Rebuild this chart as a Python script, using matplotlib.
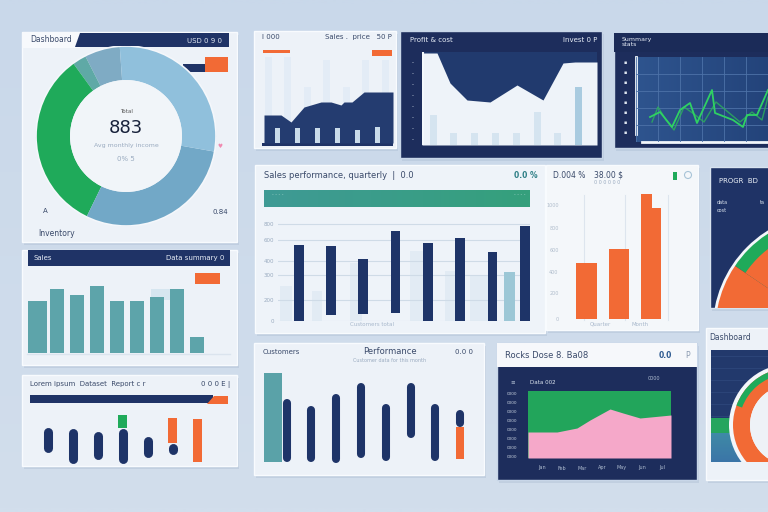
import numpy as np
import matplotlib
matplotlib.use("Agg")
import matplotlib.pyplot as plt
from matplotlib.patches import Rectangle, Circle, Polygon
from matplotlib.colors import to_rgb

W, H = 768, 512

NAVY = "#1f3366"
DARK = "#1d2d5c"
TEAL = "#5ba3a8"
ORANGE = "#f26a35"
GREEN = "#1faa5a"
PINK = "#f5a8c9"
PANEL = "#edf2f8"
FAINT = "#9aabc0"

# ---------------- data ----------------
# donut, degrees per segment counter-clockwise from 94 deg
donut_vals = [23, 9, 118, 106, 104]
donut_cols = ["#7fabc4", "#5fa9a6", GREEN, "#72a8c7", "#90c0dc"]

# small top panel: navy area + light bars
area_x = [0, 17, 27, 40, 57, 67, 77, 80, 88, 100, 129]
area_h = [28, 28, 21, 36, 41, 41, 38, 41, 41, 51, 51]
ghost_h = [86, 86, 56, 83, 56, 83, 83]
front_h = [15, 15, 15, 15, 13, 16]

# dark panel: white area + pale bars
white_x = [0, 8, 15, 28, 45, 68, 95, 121, 141, 153, 175]
white_h = [92, 92, 92, 62, 45, 43, 60, 45, 82, 83, 83]
pale_h = [30, 12, 12, 12, 12, 33, 12, 58]

# top right green lines
green_x = [14, 24, 36, 44, 54, 61, 76, 79, 97, 107, 111, 121, 132]
green_a = [25, 30, 15, 32, 39, 19, 52, 29, 22, 15, 27, 27, 52]
green_bx = [16, 22, 30, 38, 48, 58, 68, 80, 92, 104, 116, 126, 132]
green_b = [20, 35, 22, 12, 35, 28, 20, 40, 30, 20, 30, 22, 45]

# middle navy bars
mid_top = [76, 75, 62, 90, 78, 83, 69, 95]
mid_base = [0, 6, 7, 8, 0, 0, 0, 0]
mid_ghost = 49
mid_grid = [0, 21, 46, 60, 81, 97]
mid_labels = ["0", "200", "300", "400", "600", "800"]

# orange bars
orange_vals = [56, 70, 125]
orange_step = 111
orange_grid = [0, 26, 47, 69, 91, 114]
orange_labels = ["0", "200", "400", "600", "800", "1000"]

# teal bars
teal_vals = [52, 64, 58, 67, 52, 52, 56, 64, 16]

# floating rounded bars (bottom left)
fl_lo = [14, 3, 7, 3, 9, 12]
fl_hi = [39, 38, 35, 38, 30, 23]
fl_green = (38, 51)
fl_orange5 = (23, 48)
fl_orange6 = (4, 47)

# bottom middle bars
bm_teal = (3, 92)
bm_lo = [3, 3, 2, 7, 4, 27, 4, 38]
bm_hi = [66, 59, 71, 82, 61, 82, 61, 55]
bm_orange = (6, 38)

# dark area chart
pink_x = [0, 29, 49, 62, 82, 95, 112, 143]
pink_h = [26, 26, 30, 38, 49, 45, 40, 43]

# right pies (degrees, full circle = 360)
pie_vals = [56, 304]
ring_green = [60, 300]

# ---------------- figure ----------------
fig = plt.figure(figsize=(7.68, 5.12), dpi=100)
bg = fig.add_axes([0, 0, 1, 1])
bg.axis("off")


def grad_rect(x0, y0, x1, y1, c0, c1, horizontal=False, z=1):
    a = np.array(to_rgb(c0))
    b = np.array(to_rgb(c1))
    t = np.linspace(0, 1, 64)
    img = a[None, :] * (1 - t[:, None]) + b[None, :] * t[:, None]
    img = img[None, :, :] if horizontal else img[:, None, :]
    bg.imshow(img, extent=(x0, x1, y1, y0), aspect="auto", zorder=z,
              interpolation="bilinear")


def panel(x0, y0, x1, y1, color=PANEL, edge="#f8fbfe", z=2):
    bg.add_patch(Rectangle((x0 + 2, y0 + 3), x1 - x0, y1 - y0, color="#aebfd4",
                           alpha=0.45, lw=0, zorder=z - 0.5))
    bg.add_patch(Rectangle((x0, y0), x1 - x0, y1 - y0, facecolor=color,
                           edgecolor=edge, lw=1, zorder=z))


def rect(x0, y0, x1, y1, color, z=3, alpha=1):
    bg.add_patch(Rectangle((x0, y0), x1 - x0, y1 - y0, color=color, lw=0,
                           zorder=z, alpha=alpha))


def txt(x, y, s, size=5, color=NAVY, ha="left", weight="normal", z=5):
    bg.text(x, y, s, fontsize=size, color=color, ha=ha, va="center",
            weight=weight, zorder=z, family="DejaVu Sans")


def sub(x0, y0, x1, y1):
    ax = fig.add_axes([x0 / W, 1 - y1 / H, (x1 - x0) / W, (y1 - y0) / H])
    ax.patch.set_alpha(0)
    return ax


def clip_all(wedges):
    for w in wedges:
        w.set_clip_on(True)


# background
grad_rect(0, 0, W, H, "#c9d8ea", "#d2deec", z=0)

# ---- panel 1: donut ----
panel(22, 32, 237, 242)
rect(22, 32, 80, 48, "#f7f9fc", z=3)
bg.add_patch(Polygon([(80, 33), (229, 33), (229, 47), (75, 47)], color=NAVY,
                     lw=0, zorder=3))
txt(30, 39, "Dashboard", 5.5, "#3a4a6a")
txt(222, 41, "USD 0 9 0", 5, "#dfe6f0", ha="right")
rect(183, 64, 206, 72, NAVY)
rect(205, 57, 228, 72, ORANGE)
txt(43, 211, "A", 5, "#3a4a6a")
txt(228, 212, "0.84", 5, "#3a4a6a", ha="right")
txt(38, 234, "Inventory", 5.5, "#3a4a6a")
txt(220, 146, "\u2665", 4, "#f08ab0", ha="center")

ax = sub(36, 46, 216, 226)
w, _ = ax.pie(donut_vals, colors=donut_cols, startangle=94, counterclock=True,
              wedgeprops=dict(width=0.378, linewidth=0))
ax.add_patch(Circle((0, 0), 1.0, fill=False, ec="#f4f7fb", lw=1.2))
ax.add_patch(Circle((0, 0), 0.622, color="#f1f5f9", lw=0))
ax.text(0, 0.27, "Total", fontsize=4, color="#555", ha="center", va="center")
ax.text(0, 0.09, "883", fontsize=13, color="#17213a", ha="center", va="center")
ax.text(0, -0.11, "Avg monthly income", fontsize=4.5, color=FAINT,
        ha="center", va="center")
ax.text(0, -0.26, "0% 5", fontsize=5, color=FAINT, ha="center", va="center")
ax.set_xlim(-1, 1)
ax.set_ylim(-1, 1)
ax.set_aspect("auto")

# ---- panel 2: navy area ----
panel(254, 31, 396, 148)
txt(262, 37, "I 000", 5, "#3a4a6a")
txt(392, 37, "Sales .  price   50 P", 5, "#3a4a6a", ha="right")
rect(263, 50, 290, 53, ORANGE)
rect(372, 50, 392, 56, ORANGE)
rect(262, 143, 393, 146, NAVY)
ax = sub(264, 57, 393, 143)
ax.bar([4 + 19.5 * i for i in range(len(ghost_h))], ghost_h, width=7,
       color="#e3ecf6", zorder=1)
ax.fill_between(area_x, area_h, color="#243c70", lw=0, zorder=2)
ax.bar([13 + 20 * i for i in range(len(front_h))], front_h, width=5,
       color="#c9dbea", zorder=3)
ax.set_xlim(0, 129)
ax.set_ylim(0, 86)
ax.axis("off")

# ---- panel 3: dark with white area ----
panel(400, 31, 602, 158, color=DARK, edge="#c8d6e8")
txt(410, 40, "Profit & cost", 5, "#e8eef7")
txt(597, 40, "Invest 0 P", 5, "#e8eef7", ha="right")
rect(422, 52, 597, 145, "#213a6e", z=3)
for k in range(8):
    txt(413, 63 + k * 11, "-", 4, "#d8e2ee", ha="center")
ax = sub(422, 52, 597, 145)
ax.fill_between(white_x, white_h, color="#eef3f9", lw=0, zorder=1)
pale_cols = ["#d5e4f0"] * (len(pale_h) - 1) + ["#a9cbe0"]
ax.bar([11 + 20.8 * i for i in range(len(pale_h))], pale_h, width=7,
       color=pale_cols, zorder=2)
ax.axvline(0.5, color="#f4f8fc", lw=1.5)
ax.set_xlim(0, 175)
ax.set_ylim(0, 93)
ax.axis("off")
for k, lab in enumerate(["217", "190", "235", "280", "300", "330", "360", "400"]):
    txt(440 + k * 21, 139, lab, 3.5, "#8aa0bb", ha="center", z=6)

# ---- panel 4: green line chart ----
panel(614, 33, 772, 148, color=DARK, edge="#c8d6e8")
rect(614, 33, 772, 52, "#1b2b58", z=3)
txt(622, 40, "Summary", 4.5, "#e8eef7")
txt(622, 45, "stats", 4.5, "#e8eef7")
grad_rect(636, 57, 772, 142, "#2e548e", "#23437a", horizontal=True, z=3)
for k in range(8):
    txt(625, 62 + k * 10, "\u25aa", 3.5, "#dde5ef", ha="center")
ax = sub(636, 57, 768, 142)
ax.plot(green_bx, green_b, color="#2bb35a", lw=1.0, alpha=0.8)
ax.plot(green_x, green_a, color="#2fd163", lw=1.3)
ax.set_xticks(np.arange(0, 132, 22))
ax.set_yticks(np.arange(0, 85, 17))
ax.grid(color="#4d72a8", lw=0.6)
ax.tick_params(length=0, labelbottom=False, labelleft=False)
for s in ax.spines.values():
    s.set_visible(False)
ax.set_xlim(0, 132)
ax.set_ylim(0, 85)
bg.plot([636, 636], [57, 134], color="#f2f6fb", lw=2, zorder=6)
bg.plot([642, 768], [142, 142], color="#f2f6fb", lw=2, zorder=6)

# ---- panel 5: navy bars ----
panel(255, 165, 545, 333, color="#eef3f9")
txt(264, 175, "Sales performance, quarterly  |  0.0", 6, "#3a4a6a")
txt(538, 175, "0.0 %", 5.5, "#2e7f86", ha="right", weight="bold")
grad_rect(264, 190, 530, 207, "#3f9a95", "#35a07c", horizontal=True, z=3)
txt(272, 194, "- - - -", 3.5, "#9fd2c9")
txt(525, 194, "- - - -", 3.5, "#9fd2c9", ha="right")
for gx, gw, gh in [(280, 12, 35), (312, 10, 30), (350, 12, 58), (410, 14, 70),
                   (445, 10, 50), (470, 20, 45)]:
    rect(gx, 321 - gh, gx + gw, 321, "#e0eaf3", z=3, alpha=0.8)
ax = sub(278, 215, 530, 321)
heights = [t - b for t, b in zip(mid_top, mid_base)]
ax.bar(np.arange(len(mid_top)) + 0.02, heights, bottom=mid_base, width=0.3,
       color="#1e3468", zorder=3)
ax.bar([6.55], [mid_ghost], width=0.35, color="#9cc7d6", zorder=2)
ax.set_yticks(mid_grid)
ax.set_yticklabels(mid_labels, fontsize=4, color=FAINT)
ax.set_xticks([])
ax.grid(axis="y", color="#cfdbe7", lw=0.8, zorder=0)
ax.tick_params(length=0, pad=3)
for s in ax.spines.values():
    s.set_visible(False)
ax.set_xlim(-0.62, 7.18)
ax.set_ylim(0, 106)
txt(372, 324, "Customers total", 4, "#a8b8cc", ha="center")

# ---- panel 6: orange bars ----
panel(546, 165, 698, 330, color="#f4f7fa")
txt(553, 175, "D.004 %", 5.5, "#3a4a6a")
txt(594, 175, "38.00 $", 5.5, "#3a4a6a")
txt(594, 183, "0 0 0 0 0 0", 3.5, FAINT)
rect(673, 172, 677, 180, GREEN, z=4)
bg.add_patch(Circle((688, 175), 3.5, fill=False, ec="#a8c4d8", lw=0.8, zorder=4))
for gx in [584, 625, 668]:
    bg.plot([gx, gx], [195, 320], color="#dde5ee", lw=0.8, zorder=3)
ax = sub(560, 180, 690, 319)
ax.bar([0, 1], orange_vals[:2], width=[0.66, 0.63], color=ORANGE, zorder=3)
ax.bar([1.875], [orange_vals[2]], width=0.34, color=ORANGE, zorder=3)
ax.bar([2.19], [orange_step], width=0.28, color=ORANGE, zorder=3)
ax.set_yticks(orange_grid)
ax.set_yticklabels(orange_labels, fontsize=3.5, color="#b0bdcc")
ax.set_xticks([])
ax.tick_params(length=0, pad=1)
for s in ax.spines.values():
    s.set_visible(False)
ax.set_xlim(-0.83, 3.23)
ax.set_ylim(0, 139)
txt(600, 324, "Quarter", 4, "#a8b8cc", ha="center")
txt(640, 324, "Month", 4, "#a8b8cc", ha="center")

# ---- panel 7: dark pie ----
panel(710, 167, 772, 308, color=NAVY, edge="#d8e3ef")
ax = sub(710, 167, 768, 308)
w, _ = ax.pie(pie_vals, colors=[GREEN, ORANGE], startangle=90,
              counterclock=True, center=(830, -330), radius=116,
              wedgeprops=dict(linewidth=0))
clip_all(w)
w, _ = ax.pie(pie_vals, colors=[ORANGE, "none"],
              startangle=90, counterclock=True, center=(830, -330), radius=102,
              wedgeprops=dict(linewidth=0))
clip_all(w)
ax.add_patch(Circle((830, -330), 116, fill=False, ec="#f4f7fb", lw=2))
ax.set_xlim(710, 768)
ax.set_ylim(-308, -167)
ax.set_aspect("auto")
txt(719, 181, "PROGR  BD", 5, "#eef3f9", z=6)
txt(717, 202, "data", 3.5, "#dde5ef", z=6)
txt(717, 210, "cost", 3.5, "#dde5ef", z=6)
txt(760, 202, "ta", 3.5, "#dde5ef", z=6)

# ---- panel 8: teal bars ----
panel(22, 250, 237, 365)
rect(28, 250, 230, 266, NAVY, z=3)
txt(33, 258, "Sales", 5, "#e8eef7")
txt(224, 258, "Data summary 0", 5, "#e8eef7", ha="right")
rect(195, 273, 220, 284, ORANGE)
rect(151, 289, 170, 300, "#d6e6f0", z=3)
ax = sub(27, 270, 210, 353)
ax.bar(np.arange(len(teal_vals)), teal_vals,
       width=[0.95] + [0.68] * (len(teal_vals) - 1), color="#5da4aa", zorder=3)
ax.set_xlim(-0.5, 8.65)
ax.set_ylim(0, 83)
ax.axis("off")
bg.plot([27, 230], [354, 354], color="#dbe4ee", lw=1, zorder=3)

# ---- panel 9: floating rounded bars ----
panel(22, 375, 237, 466)
txt(30, 384, "Lorem ipsum  Dataset  Report c r", 5, "#3a4a6a")
txt(230, 384, "0 0 0 E |", 5, "#3a4a6a", ha="right")
rect(30, 395, 213, 403, NAVY)
bg.add_patch(Polygon([(214, 396), (228, 396), (228, 404), (207, 404)],
                     color=ORANGE, lw=0, zorder=3))
ax = sub(30, 405, 230, 466)
cap = 4.5
xs = np.arange(len(fl_lo))
ax.bar([3], [fl_green[1] - fl_green[0]], bottom=[fl_green[0]], width=0.36,
       color=GREEN, zorder=2)
ax.bar([5], [fl_orange5[1] - fl_orange5[0]], bottom=[fl_orange5[0]],
       width=0.36, color=ORANGE, zorder=2)
ax.bar([6], [fl_orange6[1] - fl_orange6[0]], bottom=[fl_orange6[0]],
       width=0.36, color=ORANGE, zorder=2)
lc = ax.vlines(xs, np.array(fl_lo) + cap, np.array(fl_hi) - cap,
               colors="#1e3468", linewidth=6.5, zorder=3)
lc.set_capstyle("round")
ax.set_xlim(-0.7, 7.3)
ax.set_ylim(0, 61)
ax.axis("off")

# ---- panel 10: bottom middle bars ----
panel(254, 343, 484, 475)
txt(263, 352, "Customers", 5, "#3a4a6a")
txt(390, 352, "Performance", 6, "#3a4a6a", ha="center")
txt(390, 360, "Customer data for this month", 3.5, FAINT, ha="center")
txt(473, 352, "0.0 0", 5, "#3a4a6a", ha="right")
ax = sub(262, 365, 480, 465)
ax.bar([-0.55], [bm_teal[1] - bm_teal[0]], bottom=[bm_teal[0]], width=0.73,
       color="#5aa2a8", zorder=2)
ax.bar([7], [bm_orange[1] - bm_orange[0]], bottom=[bm_orange[0]], width=0.33,
       color=ORANGE, zorder=2)
cap = 4
lc = ax.vlines(np.arange(len(bm_lo)), np.array(bm_lo) + cap,
               np.array(bm_hi) - cap, colors="#1e3468", linewidth=5.8, zorder=3)
lc.set_capstyle("round")
ax.set_xlim(-0.99, 7.8)
ax.set_ylim(0, 100)
ax.axis("off")

# ---- panel 11: dark area ----
panel(497, 343, 697, 480, color=DARK, edge="#c8d6e8")
rect(497, 343, 697, 367, "#f6f8fb", z=3)
txt(505, 355, "Rocks Dose 8. Ba08", 6, "#3a4a6a")
txt(672, 355, "0.0", 5.5, "#2d5a90", ha="right", weight="bold")
txt(690, 355, "P", 5.5, "#8a9ab0", ha="right")
txt(530, 382, "Data 002", 4, "#dde5ef")
txt(660, 378, "0000", 3.5, "#aebcd0", ha="right")
txt(513, 382, "\u2261", 4, "#aebcd0", ha="center")
for k in range(8):
    txt(512, 394 + k * 9, "0000", 3, "#c9d3e0", ha="center")
for k, lab in enumerate(["Jan", "Feb", "Mar", "Apr", "May", "Jun", "Jul"]):
    txt(542 + k * 20, 468, lab, 3.5, "#aebcd0", ha="center")
ax = sub(528, 391, 671, 458)
ax.fill_between(pink_x, 67, color="#22a55b", lw=0)
ax.fill_between(pink_x, pink_h, color=PINK, lw=0)
ax.set_xlim(0, 143)
ax.set_ylim(0, 67)
ax.axis("off")

# ---- panel 12: ring ----
panel(706, 328, 772, 480)
txt(709, 337, "Dashboard", 5.5, "#3a4a6a")
rect(711, 350, 768, 462, "#22396c", z=3)
for gy in range(356, 420, 12):
    bg.plot([711, 768], [gy, gy], color="#2f4a7e", lw=0.5, zorder=3)
rect(711, 418, 768, 433, "#25a55e", z=3)
grad_rect(711, 433, 768, 462, "#3f8aa6", "#3b75a8", z=3)
ax = sub(711, 350, 768, 462)
ax.add_patch(Circle((790, -425), 61, color="#f3f6fa", lw=0))
w, _ = ax.pie([1], colors=[ORANGE], center=(790, -425), radius=57,
              wedgeprops=dict(width=17, linewidth=0))
clip_all(w)
w, _ = ax.pie(ring_green, colors=[GREEN, "none"], startangle=100,
              center=(790, -425), radius=57, wedgeprops=dict(width=6, linewidth=0))
clip_all(w)
ax.add_patch(Circle((790, -425), 40, color="#eef2f7", lw=0))
ax.set_xlim(711, 768)
ax.set_ylim(-462, -350)
ax.set_aspect("auto")

bg.set_xlim(0, W)
bg.set_ylim(H, 0)
fig.savefig("out.png", dpi=100)
